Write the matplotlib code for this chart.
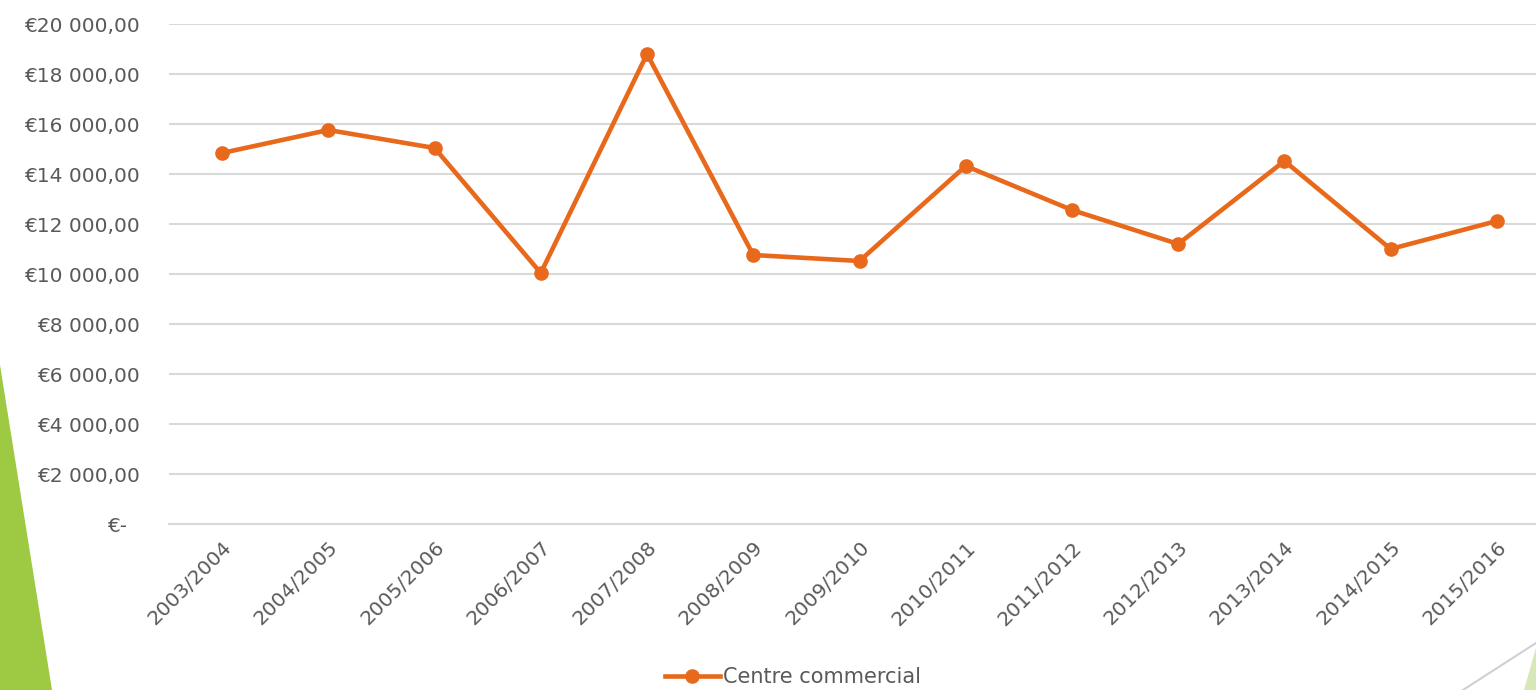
import matplotlib.pyplot as plt
from matplotlib.patches import Polygon
from matplotlib.lines import Line2D
from matplotlib.ticker import FuncFormatter

saisons = ['2003/2004', '2004/2005', '2005/2006', '2006/2007', '2007/2008',
           '2008/2009', '2009/2010', '2010/2011', '2011/2012', '2012/2013',
           '2013/2014', '2014/2015', '2015/2016']
centre_commercial = [14840, 15760, 15040, 10040, 18800, 10760, 10520,
                     14320, 12560, 11200, 14520, 11000, 12120]

orange = '#E8691B'
gris = '#595959'
plt.rcParams['font.family'] = ['DejaVu Sans']

fig = plt.figure(figsize=(15.36, 6.9), dpi=100)

# decorations du theme (triangles verts)
fig.patches.append(Polygon([(0, 1 - 365 / 690), (0, 0), (52 / 1536, 0)],
                           closed=True, transform=fig.transFigure,
                           facecolor='#9DC943', edgecolor='none', zorder=0))
fig.patches.append(Polygon([(1536 / 1536, 1 - 648 / 690), (1536 / 1536, 0), (1524 / 1536, 0)],
                           closed=True, transform=fig.transFigure,
                           facecolor='#D5E8B5', edgecolor='none', zorder=0))
fig.lines.append(Line2D([1463 / 1536, 1], [0, 1 - 643 / 690], transform=fig.transFigure,
                        color='#D0D0D0', lw=1.5))

ax = fig.add_axes([169 / 1536, 1 - 524 / 690, 1381 / 1536, 500 / 690])
ax.patch.set_alpha(0)

x = list(range(len(saisons)))
ax.plot(x, centre_commercial, color=orange, lw=3.3, marker='o', markersize=9.5,
        label='Centre commercial', zorder=3, clip_on=False)

ax.set_xlim(-0.5, len(saisons) - 0.5)
ax.set_ylim(0, 20000)
ax.set_yticks(range(0, 20001, 2000))


def euro(v, pos):
    if v == 0:
        return '€-  '
    s = '{:,.2f}'.format(v).replace(',', ' ').replace('.', ',')
    return '€' + s


ax.yaxis.set_major_formatter(FuncFormatter(euro))
ax.set_xticks(x)
ax.set_xticklabels(saisons, rotation=45, ha='right', rotation_mode='anchor')
ax.grid(axis='y', color='#D9D9D9', lw=1.5)
ax.set_axisbelow(True)
for s in ['top', 'right', 'left']:
    ax.spines[s].set_visible(False)
ax.spines['bottom'].set_color('#D9D9D9')
ax.spines['bottom'].set_linewidth(1.5)
ax.tick_params(axis='both', length=0, labelsize=14.5, colors=gris)
ax.tick_params(axis='y', pad=21)
ax.tick_params(axis='x', pad=10)

leg = fig.legend(loc='center', bbox_to_anchor=(793 / 1536, 1 - 677 / 690), frameon=False,
                 fontsize=15, handlelength=2.6, handletextpad=0.15)
for t in leg.get_texts():
    t.set_color(gris)

fig.savefig('out.png', dpi=100)
